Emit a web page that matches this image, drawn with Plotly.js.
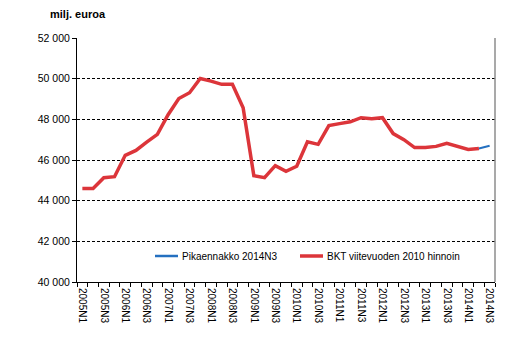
<!DOCTYPE html>
<html>
<head>
<meta charset="utf-8">
<script src="https://cdn.plot.ly/plotly-3.0.1.min.js"></script>
<style>html,body{margin:0;padding:0;background:#fff;}#chart{width:515px;height:347px;}</style>
</head>
<body>
<div id="chart"></div>
<script>
const quarters = ['2005N1','2005N2','2005N3','2005N4','2006N1','2006N2','2006N3','2006N4',
  '2007N1','2007N2','2007N3','2007N4','2008N1','2008N2','2008N3','2008N4',
  '2009N1','2009N2','2009N3','2009N4','2010N1','2010N2','2010N3','2010N4',
  '2011N1','2011N2','2011N3','2011N4','2012N1','2012N2','2012N3','2012N4',
  '2013N1','2013N2','2013N3','2013N4','2014N1','2014N2','2014N3'];
const bktQuarters = quarters.slice(0, 38);
const bktValues = [44600,44600,45130,45180,46230,46470,46880,47260,
  48230,49020,49310,50010,49880,49720,49720,48570,
  45230,45130,45720,45440,45690,46900,46770,47690,
  47790,47880,48080,48030,48080,47300,47000,46610,
  46610,46670,46820,46670,46520,46570];
const pikaQuarters = ['2014N2','2014N3'];
const pikaValues = [46570,46700];
const tickLabels = quarters.filter((q,i)=>i%2===0);
const tickIdx = tickLabels.map(q=>quarters.indexOf(q));

const FONT = '"Liberation Sans", Arial, sans-serif';
const red = '#dc353a', blue = '#2470c0';

const traces = [
  {x: bktQuarters.map(q=>quarters.indexOf(q)), y: bktValues, type:'scatter', mode:'lines',
   name:'BKT viitevuoden 2010 hinnoin', line:{color:red, width:3.5}, showlegend:false},
  {x: pikaQuarters.map(q=>quarters.indexOf(q)), y: pikaValues, type:'scatter', mode:'lines',
   name:'Pikaennakko 2014N3', line:{color:blue, width:2}, showlegend:false}
];

const plotL = 77, plotR = 495, plotT = 38, plotB = 282;
const px = x => (x - plotL)/(plotR - plotL);
const py = y => (plotB - y)/(plotB - plotT);

const layout = {
  width:515, height:347,
  margin:{l:plotL, r:515-plotR, t:plotT, b:347-plotB, pad:0},
  paper_bgcolor:'#fff', plot_bgcolor:'#fff',
  separators:', ',
  font:{family:FONT, size:10, color:'#000'},
  showlegend:false,
  xaxis:{range:[-0.5,38.5], tickmode:'array', tickvals:tickIdx, ticktext:tickLabels,
    tickangle:90, ticks:'', showgrid:false, zeroline:false, showline:true, linecolor:'#000', linewidth:1,
    ticklabelstandoff:3,
    tickfont:{family:FONT, size:10, color:'#000'},
    minor:{tickmode:'linear', tick0:-0.5, dtick:1, ticks:'outside', ticklen:4, tickcolor:'#000', showgrid:false}},
  yaxis:{range:[40000,52000], tickmode:'linear', tick0:40000, dtick:2000, tickformat:',d',
    showgrid:true, gridcolor:'#000', gridwidth:1, griddash:'3px,2px', zeroline:false,
    showline:true, linecolor:'#000', linewidth:1, ticks:'outside', ticklen:4, tickcolor:'#000',
    tickfont:{family:FONT, size:10.5, color:'#000'}},
  shapes:[
    {type:'line', xref:'paper', yref:'paper', x0:1, x1:1, y0:0, y1:1, line:{color:'#8c8c8c', width:1.5}},
    {type:'line', xref:'paper', yref:'paper', x0:px(155), x1:px(178), y0:py(256), y1:py(256), line:{color:blue, width:2.5}},
    {type:'line', xref:'paper', yref:'paper', x0:px(300), x1:px(323), y0:py(256), y1:py(256), line:{color:red, width:3.5}}
  ],
  annotations:[
    {text:'<b>milj. euroa</b>', xref:'paper', yref:'paper', x:px(48), y:py(14), xanchor:'left', yanchor:'middle',
     showarrow:false, font:{family:FONT, size:11, color:'#000'}},
    {text:'Pikaennakko 2014N3', xref:'paper', yref:'paper', x:px(180), y:py(256), xanchor:'left', yanchor:'middle',
     showarrow:false, font:{family:FONT, size:10, color:'#000'}},
    {text:'BKT viitevuoden 2010 hinnoin', xref:'paper', yref:'paper', x:px(325), y:py(256), xanchor:'left', yanchor:'middle',
     showarrow:false, font:{family:FONT, size:10, color:'#000'}}
  ]
};

Plotly.newPlot('chart', traces, layout, {displayModeBar:false, staticPlot:true});
</script>
</body>
</html>
